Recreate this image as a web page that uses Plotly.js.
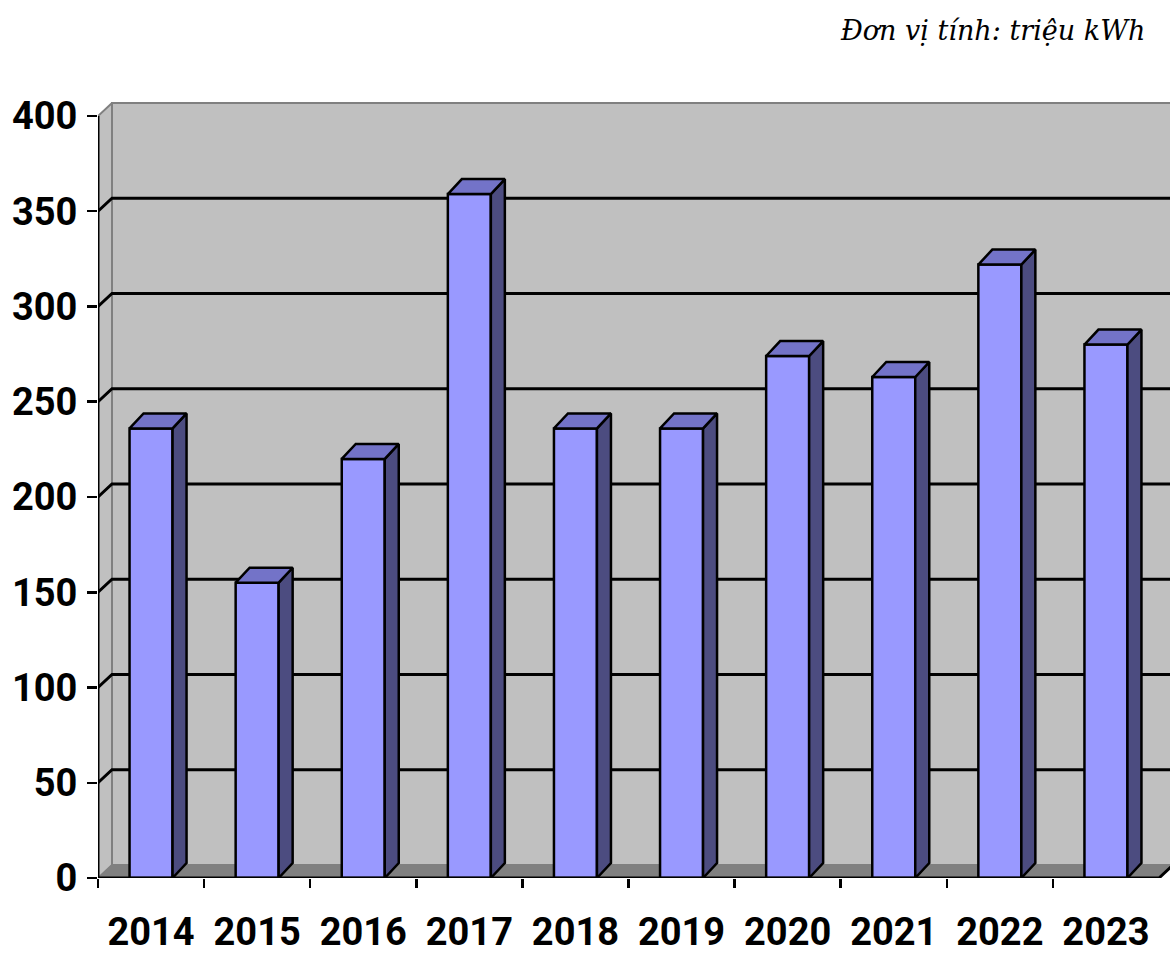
<!DOCTYPE html>
<html>
<head>
<meta charset="utf-8">
<script src="https://cdn.plot.ly/plotly-3.0.1.min.js"></script>
<style>
  html, body { margin: 0; padding: 0; background: #ffffff; }
  #chart { width: 1170px; height: 954px; }
</style>
</head>
<body>
<div id="chart"></div>
<script>
// ---- data ----
const years = ['2014', '2015', '2016', '2017', '2018', '2019', '2020', '2021', '2022', '2023'];
const values = [236, 155, 220, 359, 236, 236, 274, 263, 322, 280];
const yTicks = [0, 50, 100, 150, 200, 250, 300, 350, 400];
const unitLabel = 'Đơn vị tính: triệu kWh';

// ---- geometry (pixels) ----
const W = 1170, H = 954;
const L = 98, R = 1170;           // plot area left / right
const B = 878;                    // y of value 0
const Y400 = 115.5;               // y of value 400
const catPx = (1159 - 98) / 10;   // pixels per category
const pyPerUnit = (B - Y400) / 400;
const wallDX = 14, wallDY = 13;   // depth offset of walls (px)
const barDX = 14, barDY = 15;     // depth offset of bars (px)
const T = Y400 - 14;              // top of plot area

const xMin = -0.5;
const xMax = xMin + (R - L) / catPx;
const yMax = 400 + (Y400 - T) / pyPerUnit;

const wdx = wallDX / catPx, wdy = wallDY / pyPerUnit;
const bdx = barDX / catPx, bdy = barDY / pyPerUnit;
const barW = 43 / catPx, hw = barW / 2;
const idx = years.map((_, i) => i);

// ---- traces ----
const traces = [];
traces.push({
  type: 'bar', x: idx, y: values, width: barW,
  marker: { color: '#9999FF', line: { color: '#000000', width: 2.5 } },
  hoverinfo: 'skip', showlegend: false
});
values.forEach((v, i) => {
  // side face
  traces.push({
    type: 'scatter', mode: 'lines', fill: 'toself', fillcolor: '#4C4C80',
    x: [i + hw, i + hw + bdx, i + hw + bdx, i + hw, i + hw],
    y: [0, bdy, v + bdy, v, 0],
    line: { color: '#000000', width: 2.5 }, hoverinfo: 'skip', showlegend: false
  });
  // top face
  traces.push({
    type: 'scatter', mode: 'lines', fill: 'toself', fillcolor: '#7373C8',
    x: [i - hw, i - hw + bdx, i + hw + bdx, i + hw, i - hw],
    y: [v, v + bdy, v + bdy, v, v],
    line: { color: '#000000', width: 2.5 }, hoverinfo: 'skip', showlegend: false
  });
});

// ---- decorative walls / floor / gridlines ----
const shapes = [];
shapes.push({ type: 'rect', layer: 'below', xref: 'x', yref: 'y',
  x0: xMin + wdx, x1: xMax + 1, y0: wdy, y1: 400 + wdy,
  fillcolor: '#C0C0C0', line: { color: '#808080', width: 2 } });
shapes.push({ type: 'path', layer: 'below', xref: 'x', yref: 'y',
  path: `M${xMin},0 L${xMin},400 L${xMin + wdx},${400 + wdy} L${xMin + wdx},${wdy} Z`,
  fillcolor: '#C0C0C0', line: { color: '#808080', width: 2 } });
shapes.push({ type: 'path', layer: 'below', xref: 'x', yref: 'y',
  path: `M${xMin},0 L9.5,0 L${9.5 + wdx},${wdy} L${xMax + 1},${wdy} L${xMin + wdx},${wdy} Z`,
  fillcolor: '#808080', line: { color: '#808080', width: 1 } });
yTicks.filter(v => v > 0 && v < 400).forEach(v => {
  shapes.push({ type: 'path', layer: 'below', xref: 'x', yref: 'y',
    path: `M${xMin},${v} L${xMin + wdx},${v + wdy} L${xMax + 1},${v + wdy}`,
    line: { color: '#000000', width: 3 } });
});
shapes.push({ type: 'line', layer: 'below', xref: 'x', yref: 'y',
  x0: xMin, x1: xMin, y0: 0, y1: 400, line: { color: '#000000', width: 3 } });
shapes.push({ type: 'path', layer: 'above', xref: 'x', yref: 'y',
  path: `M${xMin},0 L9.5,0 L${9.5 + wdx},${wdy}`,
  line: { color: '#000000', width: 3 } });

const tickFont = { family: 'Roboto, "Liberation Sans Narrow", sans-serif',
  size: 38, color: '#000000', weight: 700 };

const layout = {
  width: W, height: H,
  margin: { l: L, r: W - R, t: T, b: H - B, pad: 0 },
  paper_bgcolor: '#ffffff', plot_bgcolor: '#ffffff',
  showlegend: false,
  bargap: 0,
  xaxis: {
    type: 'linear', range: [xMin, xMax], fixedrange: true, automargin: false,
    tickmode: 'array', tickvals: idx, ticktext: years, tickangle: 0,
    ticks: '', showgrid: false, zeroline: false, showline: false,
    tickfont: tickFont, ticklabelstandoff: 28,
    minor: { tickmode: 'array', tickvals: idx.map(i => i - 0.5),
      ticks: 'outside', ticklen: 9, tickwidth: 2.5, tickcolor: '#000000', showgrid: false }
  },
  yaxis: {
    range: [0, yMax], fixedrange: true, automargin: false,
    tickmode: 'array', tickvals: yTicks, ticktext: yTicks.map(String),
    ticks: 'outside', ticklen: 10, tickwidth: 2.5, tickcolor: '#000000',
    showgrid: false, zeroline: false, showline: false,
    tickfont: tickFont, ticklabelstandoff: 2
  },
  shapes: shapes,
  annotations: [{
    text: unitLabel, xref: 'paper', yref: 'paper',
    x: (1147 - L) / (R - L), xanchor: 'right',
    y: (B - 30) / (B - T), yanchor: 'middle',
    showarrow: false,
    font: { family: '"DejaVu Serif", "Liberation Serif", serif', size: 27, style: 'italic', color: '#000000' }
  }]
};

Plotly.newPlot('chart', traces, layout, { displayModeBar: false, staticPlot: true });
</script>
</body>
</html>
